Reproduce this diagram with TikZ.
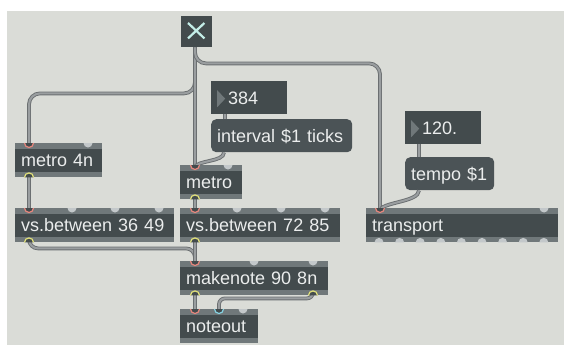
\documentclass[tikz,border=0pt]{standalone}
\usepackage{fontspec}
\setmainfont{Liberation Sans}
\usepackage{xcolor}
\definecolor{patchbg}{HTML}{DADCD7}
\definecolor{body}{HTML}{434B4D}
\definecolor{strip}{HTML}{70787A}
\definecolor{msgfill}{HTML}{4B5356}
\definecolor{label}{HTML}{EBEDED}
\definecolor{portgray}{HTML}{C3C8CA}
\definecolor{inred}{HTML}{E8877E}
\definecolor{outyel}{HTML}{E2E27A}
\definecolor{incyan}{HTML}{86D3E3}
\definecolor{cordmid}{HTML}{9A9EA0}
\definecolor{cordedge}{HTML}{6B6F71}
\definecolor{togx}{HTML}{C4EEE8}

\newcommand\inport[3]{\path[#1] ([xshift=#3]#2.north west) ++(-4.5pt,0) arc[start angle=180,end angle=360,radius=4.5pt];}
\newcommand\outport[3]{\path[#1] ([xshift=#3]#2.south west) ++(-4.5pt,0) arc[start angle=180,end angle=0,radius=4.5pt];}

\begin{document}
\begin{tikzpicture}[x=1pt,y=-1pt]
\tikzset{every node/.style={anchor=north west,text=label,font=\fontsize{18}{21}\selectfont,text height=13pt,text depth=0pt}}
\tikzset{obj/.style={fill=body,minimum height=34pt,inner xsep=6pt,inner ysep=0pt,align=left,
  path picture={\fill[strip] (path picture bounding box.north west) rectangle ([yshift=-6pt]path picture bounding box.north east);
                \fill[strip] (path picture bounding box.south west) rectangle ([yshift=5pt]path picture bounding box.south east);}}}
\tikzset{msg/.style={fill=msgfill,rounded corners=5pt,minimum height=33pt,inner xsep=6pt,inner ysep=0pt,align=left}}
\tikzset{numbox/.style={fill=body,minimum height=33pt,inner xsep=0pt,inner ysep=0pt,align=left,
  execute at begin node=\hspace*{17pt},
  path picture={\fill[strip] ([shift={(6pt,-9pt)}]path picture bounding box.north west) -- ++(0pt,-17pt) -- ++(8pt,8.5pt) -- cycle;}}}
\tikzset{cord/.style={draw=cordedge,line width=0.9pt,double=cordmid,double distance=2pt,rounded corners=11pt}}
\tikzset{pin/.style={fill=portgray},hot/.style={fill=body,draw=inred,line width=1.2pt},
  cold/.style={fill=body,draw=incyan,line width=1.2pt},outlet/.style={fill=body,draw=outyel,line width=1.2pt}}

\useasboundingbox (0,0) rectangle (564,345);
\fill[white] (0,0) rectangle (564,345);
\fill[patchbg] (7,11) rectangle (564,345);

% objects
\node[fill=body,minimum width=31pt,minimum height=31pt,inner sep=0pt] (tog) at (181,16) {};
\draw[togx,line width=2.2pt] ([shift={(7pt,-7pt)}]tog.north west) -- ([shift={(-8pt,9pt)}]tog.south east)
  ([shift={(-8pt,-7pt)}]tog.north east) -- ([shift={(7pt,9pt)}]tog.south west);
\node[numbox,text width=76pt] (nlow) at (211,81) {384};
\node[msg,text width=129pt] (intv) at (211,119) {interval \$1 ticks};
\node[numbox,text width=76pt] (ntempo) at (405,111) {120.};
\node[msg,text width=77pt] (tmp) at (405,157) {tempo \$1};
\node[obj,text width=75pt] (mfour) at (15,143) {metro 4n};
\node[obj,text width=50pt] (met) at (180,165) {metro};
\node[obj,text width=147pt] (vsa) at (15,208) {vs.between 36 49};
\node[obj,text width=148pt] (vsb) at (180,208) {vs.between 72 85};
\node[obj,text width=180pt] (tr) at (366,208) {transport};
\node[obj,text width=136pt] (mn) at (180,261) {makenote 90 8n};
\node[obj,text width=66pt] (no) at (180,309) {noteout};

% free inlets and outlets
\inport{pin}{mfour}{73pt}
\inport{pin}{met}{48pt}
\foreach \dx in {57,100,144} {\inport{pin}{vsa}{\dx pt}}
\foreach \dx in {57,101,145} {\inport{pin}{vsb}{\dx pt}}
\foreach \dx in {74,133} {\inport{pin}{mn}{\dx pt}}
\inport{pin}{no}{63pt}
\inport{pin}{tr}{178pt}
\foreach \k in {0,...,8} {\outport{pin}{tr}{13pt+20.6pt*\k}}

% patch cords
\coordinate (togout) at ([xshift=14pt]tog.south west);
\draw[cord] (togout) -- ++(0,46) -| ([shift={(14pt,-3pt)}]mfour.north west);
\draw[cord] (togout) -- ([shift={(15pt,-3pt)}]met.north west);
\draw[cord] (togout) -- ++(0,16) -| ([shift={(14pt,-3pt)}]tr.north west);
\draw[cord] ([xshift=14pt]nlow.south west) -- ([xshift=14pt]intv.north west);
\draw[cord] ([xshift=13pt]intv.south west) .. controls +(0,10) and +(0,-8) .. ([shift={(15pt,-3pt)}]met.north west);
\draw[cord] ([xshift=14pt]ntempo.south west) -- ([xshift=14pt]tmp.north west);
\draw[cord] ([xshift=14pt]tmp.south west) .. controls +(0,12) and +(0,-9) .. ([shift={(14pt,-3pt)}]tr.north west);
\draw[cord] ([shift={(14pt,3pt)}]mfour.south west) -- ([shift={(14pt,-3pt)}]vsa.north west);
\draw[cord] ([shift={(15pt,3pt)}]met.south west) -- ([shift={(15pt,-3pt)}]vsb.north west);
\draw[cord,rounded corners=9pt] ([shift={(14pt,3pt)}]vsa.south west) -- ++(0,9) -| ([shift={(15pt,-3pt)}]mn.north west);
\draw[cord] ([shift={(15pt,3pt)}]vsb.south west) -- ([shift={(15pt,-3pt)}]mn.north west);
\draw[cord] ([shift={(15pt,3pt)}]mn.south west) -- ([shift={(15pt,-3pt)}]no.north west);
\draw[cord,rounded corners=6pt] ([shift={(133pt,3pt)}]mn.south west) -- ++(0,6) -| ([shift={(39pt,-3pt)}]no.north west);

% connected inlets and outlets
\inport{hot}{mfour}{14pt}
\inport{hot}{met}{15pt}
\inport{hot}{vsa}{14pt}
\inport{hot}{vsb}{15pt}
\inport{hot}{tr}{14pt}
\inport{hot}{mn}{15pt}
\inport{hot}{no}{15pt}
\inport{cold}{no}{39pt}
\outport{outlet}{mfour}{14pt}
\outport{outlet}{met}{15pt}
\outport{outlet}{vsa}{14pt}
\outport{outlet}{vsb}{15pt}
\outport{outlet}{mn}{15pt}
\outport{outlet}{mn}{133pt}
\end{tikzpicture}
\end{document}
